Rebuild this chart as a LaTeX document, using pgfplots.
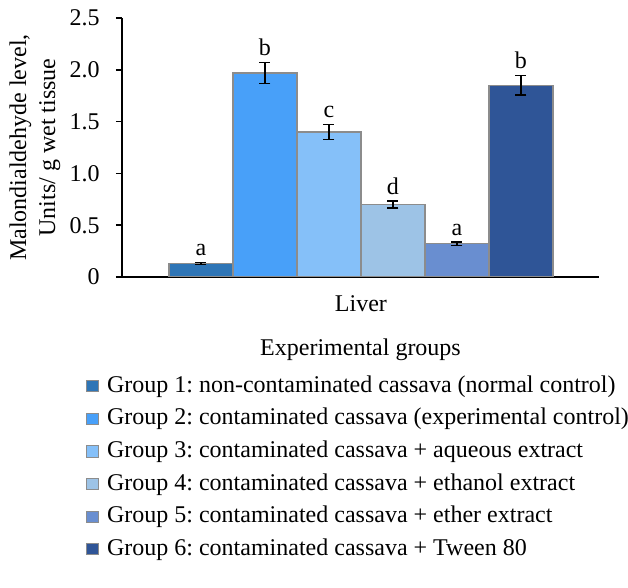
\documentclass[12pt,border=0pt]{standalone}
\usepackage{fontspec}
\setmainfont{Liberation Serif}
\usepackage{pgfplots}
\pgfplotsset{compat=1.18}
\frenchspacing

\definecolor{g1}{HTML}{2E75B6}
\definecolor{g2}{HTML}{48A0F9}
\definecolor{g3}{HTML}{85C0F9}
\definecolor{g4}{HTML}{9DC3E6}
\definecolor{g5}{HTML}{698ED0}
\definecolor{g6}{HTML}{2F5597}
\definecolor{edge}{HTML}{8C8C8C}

\pgfplotsset{
  grp/.style={ybar, bar width=1, bar shift=0pt, draw=edge, line width=0.6pt, fill=#1,
    legend image code/.code={\draw[##1, line width=0.5pt] (0pt,-2.8pt) rectangle (5.6pt,2.8pt); \path (9.8pt,0pt);},
    error bars/y dir=both, error bars/y explicit,
    error bars/error bar style={black, line width=0.75pt},
    error bars/error mark options={black, rotate=90, mark size=2.75pt, line width=0.75pt}},
}

\begin{document}
\begin{tikzpicture}
\useasboundingbox (-61pt,-155.5pt) rectangle (253pt,138.5pt);
\begin{axis}[
    at={(0,0)}, anchor=south west,
    scale only axis,
    width=238.5pt, height=129.5pt,
    xmin=-0.234, xmax=7.219,
    ymin=0, ymax=2.5,
    axis x line*=bottom, axis y line*=left,
    axis line style={black, line width=0.75pt},
    xtick={3.5}, xticklabels={Liver},
    x tick style={draw=none},
    xticklabel style={yshift=-2pt},
    extra x ticks={-0.234,7.219}, extra x tick labels={},
    extra x tick style={major tick length=3pt, tick align=outside, tick style={black, line width=0.75pt}},
    ytick={0,0.5,1,1.5,2,2.5},
    yticklabels={0,0.5,1.0,1.5,2.0,2.5},
    yticklabel style={xshift=-4pt},
    y tick style={black, line width=0.75pt},
    tick align=outside, major tick length=3pt,
    xlabel={Experimental groups},
    xlabel style={yshift=0.5pt},
    ylabel={Malondialdehyde level,\\Units/ g wet tissue},
    ylabel style={align=center, yshift=-3.5pt},
    legend cell align=left,
    legend style={at={(axis description cs:-0.0755,-0.378)}, anchor=north west,
      draw=none, fill=none, inner sep=0pt,
      nodes={inner sep=0pt, text height=8.5pt, text depth=2.5pt},
      row sep=5.3pt},
  ]
\addplot[grp=g1] coordinates {(1,0.13) +- (0,0.01)};
\addplot[grp=g2] coordinates {(2,1.97) +- (0,0.10)};
\addplot[grp=g3] coordinates {(3,1.40) +- (0,0.074)};
\addplot[grp=g4] coordinates {(4,0.70) +- (0,0.035)};
\addplot[grp=g5] coordinates {(5,0.32) +- (0,0.017)};
\addplot[grp=g6] coordinates {(6,1.85) +- (0,0.095)};
\addplot[draw=none, forget plot, nodes near coords, point meta=explicit symbolic,
  nodes near coords style={anchor=south, inner sep=3pt}]
  coordinates {(1,0.14) [a] (2,2.07) [b] (3,1.474) [c] (4,0.735) [d] (5,0.337) [a] (6,1.945) [b]};
\legend{Group 1: non-contaminated cassava (normal control),
  Group 2: contaminated cassava (experimental control),
  Group 3: contaminated cassava + aqueous extract,
  Group 4: contaminated cassava + ethanol extract,
  Group 5: contaminated cassava + ether extract,
  Group 6: contaminated cassava + Tween 80}
\end{axis}
\end{tikzpicture}
\end{document}
